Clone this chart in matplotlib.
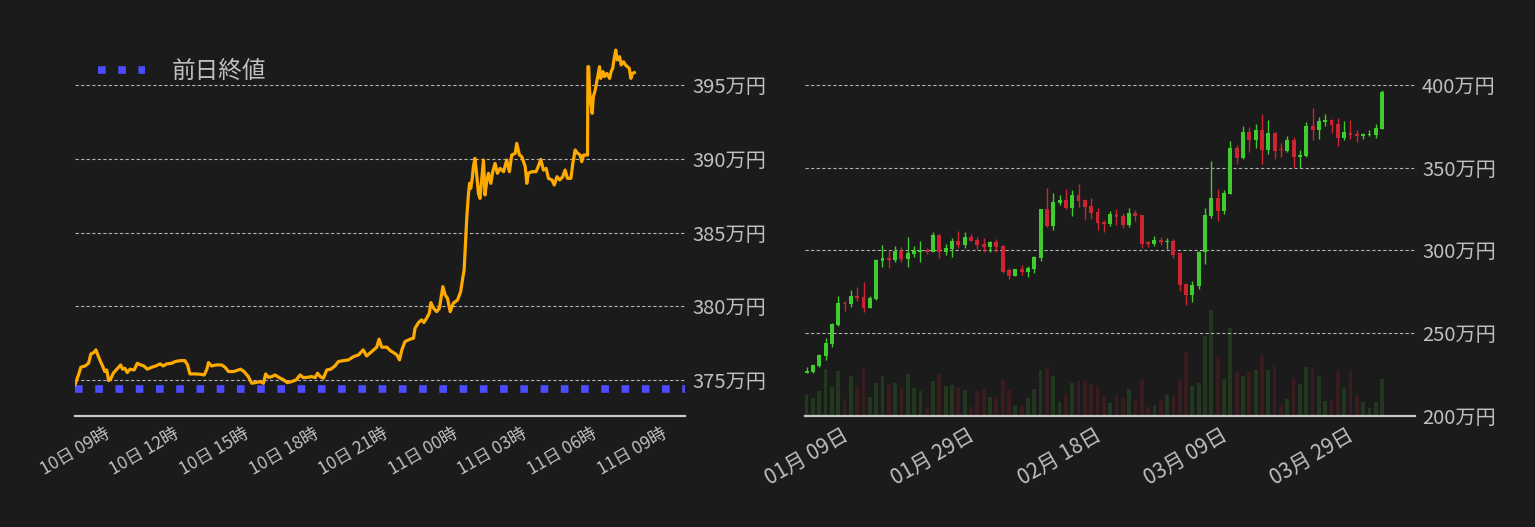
import numpy as np
import pandas as pd
import matplotlib
matplotlib.use("Agg")
import matplotlib.pyplot as plt

plt.rcParams['font.family'] = ['Noto Sans CJK JP', 'DejaVu Sans']

# ---- intraday (left): minutes after 10日 09:00, price in 万円
minutes = [0, 9, 15, 26, 35, 41, 49, 54, 60, 66, 72, 77, 82, 87, 92, 99, 108, 118, 123, 129,
           135, 142, 153, 161, 170, 178, 187, 198, 209, 220, 228, 237, 250, 259, 272, 284, 291, 297, 310, 323,
           334, 341, 345, 353, 366, 379, 388, 397, 410, 418, 428, 437, 448, 457, 466, 478, 487, 493, 500, 509,
           517, 528, 539, 549, 560, 572, 582, 590, 601, 612, 621, 627, 634, 642, 651, 661, 672, 681, 694, 707,
           720, 733, 745, 754, 767, 780, 786, 793, 806, 815, 823, 832, 839, 845, 853, 866, 875, 879, 888, 896,
           902, 909, 916, 920, 927, 935, 942, 951, 957, 963, 970, 978, 989, 997, 1003, 1006, 1009, 1013, 1017, 1020,
           1023, 1027, 1030, 1034, 1039, 1043, 1047, 1052, 1056, 1060, 1065, 1069, 1075, 1080, 1086, 1092, 1099, 1108, 1116, 1123,
           1129, 1138, 1142, 1149, 1155, 1164, 1168, 1172, 1181, 1192, 1198, 1204, 1211, 1218, 1224, 1233, 1239, 1246, 1253, 1261,
           1267, 1273, 1282, 1287, 1293, 1299, 1306, 1310, 1315, 1325, 1326, 1328, 1330, 1334, 1337, 1340, 1345, 1349, 1353, 1356,
           1359, 1365, 1369, 1375, 1382, 1386, 1390, 1394, 1398, 1402, 1408, 1412, 1418, 1423, 1428, 1433, 1437, 1441, 1446]
price = [374.7, 375.36, 375.88, 375.97, 376.15, 376.78, 376.88, 377.06, 376.65, 376.27, 375.93, 375.59, 375.70, 374.98, 375.07, 375.48, 375.75, 376.04, 375.75, 375.81,
         375.52, 375.75, 375.70, 376.15, 376.04, 375.97, 375.75, 375.88, 375.97, 376.11, 375.97, 376.11, 376.15, 376.27, 376.33, 376.33, 376.04, 375.43, 375.43, 375.41,
         375.36, 375.75, 376.20, 375.97, 376.04, 376.04, 375.88, 375.59, 375.59, 375.66, 375.75, 375.59, 375.25, 374.80, 374.84, 374.91, 374.80, 375.43, 375.20, 375.25,
         375.36, 375.18, 375.03, 374.84, 374.91, 375.03, 375.36, 375.18, 375.20, 375.25, 375.18, 375.48, 375.25, 375.14, 375.70, 375.75, 375.97, 376.27, 376.33, 376.38,
         376.60, 376.72, 377.06, 376.65, 376.94, 377.24, 377.78, 377.24, 377.24, 377.01, 376.88, 376.72, 376.38, 377.06, 377.62, 377.78, 377.85, 378.52, 378.91, 379.09,
         378.91, 379.20, 379.54, 380.26, 379.88, 379.65, 379.88, 381.34, 380.78, 380.55, 379.65, 380.22, 380.44, 381.00, 382.02, 382.47, 384.05, 386.08, 387.55, 388.34,
         388.00, 388.68, 389.47, 390.03, 388.79, 387.66, 387.32, 388.79, 389.92, 387.55, 388.57, 389.02, 388.34, 389.13, 389.69, 389.02, 389.35, 389.13, 389.92, 389.13,
         390.26, 390.37, 391.05, 390.26, 390.15, 389.47, 388.34, 389.02, 389.13, 389.13, 389.51, 389.96, 389.24, 389.35, 388.68, 388.57, 388.23, 388.79, 388.57, 388.79,
         389.24, 388.68, 388.68, 389.69, 390.60, 390.38, 390.26, 389.81, 390.26, 390.26, 396.24, 396.24, 394.66, 393.76, 393.08, 394.21, 394.66, 395.23, 395.79, 396.24,
         395.45, 395.91, 395.57, 395.79, 395.45, 395.91, 396.13, 396.81, 397.37, 396.70, 396.92, 396.36, 396.58, 396.36, 396.24, 396.13, 395.45, 395.79, 395.84]
prev_close = 374.4
hour_labels = ["10日 09時", "10日 12時", "10日 15時", "10日 18時", "10日 21時",
               "11日 00時", "11日 03時", "11日 06時", "11日 09時"]

# ---- daily candles (right), 万円
opens = [226.1, 226.7, 230.3, 236.3, 243.6, 254.8, 268.1, 267.5, 272.3, 271.7, 265.1, 270.5, 293.4, 295.2, 294.0, 299.8, 294.6, 297.8, 299.0, 300.0,
         298.8, 309.0, 298.8, 300.6, 305.4, 303.0, 307.8, 306.0, 303.6, 301.8, 304.8, 302.4, 288.0, 284.3, 288.6, 286.7, 288.6, 295.2, 324.7, 314.5,
         328.9, 330.7, 325.9, 333.7, 330.7, 327.1, 322.9, 316.9, 315.7, 321.7, 320.5, 315.1, 322.3, 321.1, 304.8, 303.6, 306.0, 305.0, 305.4, 298.2,
         279.5, 272.9, 278.3, 298.8, 320.5, 331.9, 323.5, 334.3, 361.7, 356.1, 371.7, 366.9, 372.9, 360.8, 371.1, 361.0, 360.2, 366.9, 356.6, 357.2,
         375.3, 372.9, 377.7, 378.9, 376.5, 368.1, 371.1, 370.5, 369.3, 369.9, 369.9, 373.5]
highs = [229.3, 231.3, 237.3, 247.0, 256.0, 272.3, 269.3, 275.9, 277.7, 280.7, 272.3, 294.6, 303.0, 300.0, 302.4, 301.8, 307.8, 302.4, 305.4, 301.2,
         310.8, 309.6, 303.6, 307.2, 311.4, 310.8, 309.6, 307.8, 307.2, 305.4, 306.6, 303.0, 289.2, 288.6, 291.0, 290.4, 296.4, 325.3, 338.0, 334.9,
         333.7, 337.3, 336.7, 340.4, 331.0, 331.9, 325.9, 318.1, 323.5, 324.7, 322.3, 325.9, 324.1, 321.5, 305.4, 308.4, 307.8, 307.2, 306.6, 298.8,
         279.8, 281.3, 299.4, 325.9, 354.2, 337.3, 336.7, 366.1, 363.7, 375.4, 374.7, 376.5, 382.5, 378.9, 371.7, 365.1, 369.3, 368.7, 360.8, 377.7,
         386.1, 380.7, 382.5, 379.5, 380.1, 378.3, 378.9, 372.9, 371.1, 372.9, 376.5, 397.0]
lows = [226.0, 226.1, 229.7, 233.9, 241.8, 254.4, 263.3, 265.9, 269.3, 262.9, 265.1, 269.9, 290.0, 289.2, 292.8, 292.8, 289.8, 295.8, 292.8, 297.6,
        298.8, 295.2, 297.0, 295.8, 301.2, 301.2, 305.4, 300.6, 298.8, 298.8, 298.8, 286.1, 282.5, 284.3, 284.9, 283.7, 286.1, 293.4, 314.0, 312.0,
        327.7, 325.3, 320.5, 326.5, 318.1, 318.7, 312.0, 310.8, 314.5, 315.1, 313.3, 313.9, 317.5, 301.2, 301.8, 302.4, 303.0, 300.6, 295.2, 275.3,
        266.9, 268.7, 276.5, 291.6, 319.3, 317.5, 321.7, 333.9, 352.1, 355.3, 359.6, 362.0, 352.4, 358.4, 355.4, 356.6, 359.6, 350.0, 350.0, 356.6,
        366.9, 367.5, 375.3, 371.1, 363.3, 366.9, 367.5, 365.7, 367.5, 369.3, 368.1, 373.5]
closes = [227.3, 230.7, 236.7, 244.0, 255.4, 268.1, 267.5, 272.3, 271.1, 265.1, 271.1, 294.0, 295.2, 294.0, 299.8, 294.6, 298.2, 299.8, 300.0, 298.8,
          309.0, 298.8, 301.2, 305.4, 303.0, 307.8, 305.4, 303.0, 301.8, 304.8, 301.8, 286.7, 284.3, 288.6, 286.7, 289.2, 295.8, 324.7, 314.5, 329.5,
          330.7, 325.9, 333.7, 330.1, 326.5, 322.3, 316.3, 315.7, 321.7, 319.9, 315.1, 322.3, 320.5, 303.6, 303.6, 306.0, 304.8, 305.6, 297.0, 278.9,
          272.9, 278.9, 298.8, 321.1, 331.9, 323.5, 334.9, 361.7, 356.1, 371.7, 366.9, 372.9, 360.8, 371.1, 360.2, 360.4, 366.9, 356.6, 357.8, 375.3,
          372.9, 378.3, 378.9, 375.9, 368.1, 371.7, 369.9, 369.3, 370.5, 370.5, 374.1, 395.8]
volume = [21, 18, 25, 47, 29, 45, 17, 40, 29, 48, 19, 33, 40, 31, 33, 29, 42, 28, 25, 9,
          35, 42, 30, 31, 29, 26, 9, 25, 27, 19, 19, 36, 26, 10, 10, 18, 27, 46, 49, 40,
          14, 21, 33, 35, 35, 32, 29, 20, 13, 21, 18, 27, 16, 36, 9, 11, 15, 21, 20, 37,
          64, 30, 33, 80, 106, 59, 37, 88, 44, 40, 44, 46, 61, 46, 50, 11, 17, 38, 32, 49,
          49, 40, 15, 15, 45, 28, 45, 21, 14, 8, 14, 37]
day_labels = ["01月 09日", "01月 29日", "02月 18日", "03月 09日", "03月 29日"]

BG = "#1b1b1b"
TXT = "#bfbfbf"
GREEN = "#3fcc2f"
RED = "#cc2430"

fig = plt.figure(figsize=(15.35, 5.27), dpi=100, facecolor=BG)
W, H = 1535, 527
ax1 = fig.add_axes([75 / W, (H - 415.7) / H, 610 / W, 375.7 / H])
ax2 = fig.add_axes([805 / W, (H - 415.7) / H, 610 / W, 375.7 / H])
axv = ax2.twinx()


def style(ax):
    ax.set_facecolor(BG)
    for s in ["top", "left", "right"]:
        ax.spines[s].set_visible(False)
    ax.spines["bottom"].set_color("#c8c8c8")
    ax.spines["bottom"].set_linewidth(1.6)
    ax.yaxis.tick_right()
    ax.tick_params(axis="both", length=0, colors=TXT)
    ax.tick_params(axis="y", pad=5, labelsize=14.5)
    ax.grid(axis="y", color="#b0b0b0", lw=0.8, ls=(0, (3, 2)))
    ax.set_axisbelow(True)


# left chart
style(ax1)
ax1.plot(minutes, price, color="#ffaa00", lw=2.3, zorder=3)
ax1.axhline(prev_close, color="#4b4bff", lw=5.5, ls=":", label="前日終値", zorder=2)
ax1.set_xlim(0, 1577)
ax1.set_ylim(372.6, 398.05)
ax1.set_yticks([375, 380, 385, 390, 395])
ax1.set_yticklabels([f"{v}万円" for v in [375, 380, 385, 390, 395]])
ax1.set_xticks(np.arange(0, 1441, 180))
ax1.set_xticklabels(hour_labels, rotation=30, ha="center", fontsize=12.5)
ax1.tick_params(axis="x", pad=6)
leg = ax1.legend(loc="center left", bbox_to_anchor=(0.003, 0.915), frameon=False,
                 fontsize=17, handlelength=2.0, handletextpad=1.1, borderpad=0.4)
for t in leg.get_texts():
    t.set_color(TXT)

# right chart: volume behind candles
x = np.arange(len(opens))
o = np.array(opens)
c = np.array(closes)
cols = [GREEN if cc >= oo else RED for oo, cc in zip(o, c)]

axv.bar(x, volume, width=0.6, color=cols, alpha=0.17)
axv.set_ylim(0, max(volume) * 3.55)
axv.axis("off")
axv.set_zorder(1)
ax2.set_zorder(2)
ax2.patch.set_visible(False)

style(ax2)
ax2.vlines(x, lows, highs, colors=cols, lw=1.0, zorder=3)
body = np.where(np.abs(c - o) < 0.6, 0.6, c - o)
ax2.bar(x, body, bottom=o, width=0.62, color=cols, zorder=4)
ax2.set_xlim(-0.25, 96.2)
ax2.set_ylim(200, 427.2)
ax2.set_yticks([200, 250, 300, 350, 400])
ax2.set_yticklabels([f"{v}万円" for v in [200, 250, 300, 350, 400]])
ax2.set_xticks(x[::20])
ax2.set_xticklabels(day_labels, rotation=30, ha="center", fontsize=15)
ax2.tick_params(axis="x", pad=6)
axv.set_xlim(ax2.get_xlim())

fig.savefig("out.png", dpi=100, facecolor=BG)
